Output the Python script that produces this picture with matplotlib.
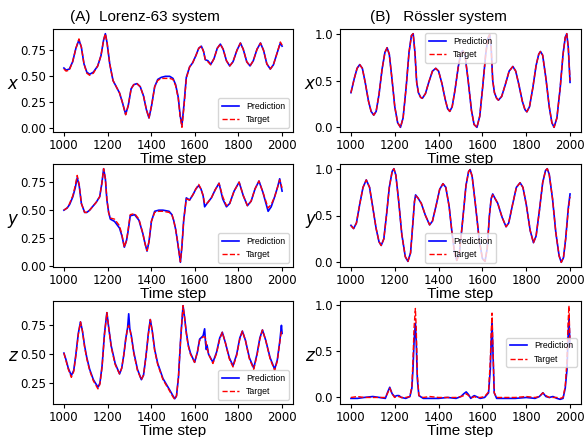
"""Reservoir prediction vs target for Lorenz-63 and Roessler systems (3x2 panels)."""
import matplotlib

matplotlib.use("Agg")
import matplotlib.pyplot as plt

LABEL_FONT = ["Liberation Sans", "DejaVu Sans"]

# ---- Lorenz-63, x component ----
t_lx = [1000, 1010, 1025, 1040, 1055, 1069, 1080, 1092, 1105, 1118, 1135, 1155,
        1170, 1182, 1190, 1198, 1210, 1225, 1240, 1255, 1268, 1283, 1295, 1308,
        1320, 1335, 1350, 1365, 1378, 1390, 1402, 1416, 1430, 1446, 1465, 1485,
        1500, 1512, 1524, 1533, 1541, 1550, 1561, 1576, 1590, 1605, 1618, 1630,
        1640, 1648, 1660, 1673, 1688, 1703, 1717, 1730, 1745, 1760, 1775, 1793,
        1809, 1822, 1838, 1853, 1868, 1885, 1901, 1915, 1930, 1946, 1960, 1975,
        1992, 2000]
lx_pred = [0.58, 0.56, 0.57, 0.64, 0.77, 0.85, 0.78, 0.62, 0.54, 0.52, 0.54, 0.60,
           0.70, 0.85, 0.91, 0.82, 0.62, 0.46, 0.40, 0.34, 0.25, 0.135, 0.22, 0.38,
           0.42, 0.43, 0.40, 0.31, 0.18, 0.10, 0.22, 0.40, 0.47, 0.49, 0.50, 0.50,
           0.48, 0.42, 0.30, 0.12, 0.03, 0.22, 0.49, 0.59, 0.63, 0.70, 0.77, 0.79,
           0.74, 0.66, 0.65, 0.615, 0.67, 0.77, 0.81, 0.76, 0.65, 0.60, 0.64, 0.75,
           0.82, 0.76, 0.64, 0.60, 0.65, 0.76, 0.82, 0.75, 0.62, 0.57, 0.61, 0.71,
           0.82, 0.79]
lx_target = [0.57, 0.55, 0.56, 0.64, 0.77, 0.86, 0.78, 0.62, 0.53, 0.51, 0.53, 0.60,
             0.70, 0.85, 0.91, 0.82, 0.62, 0.46, 0.40, 0.34, 0.25, 0.13, 0.22, 0.38,
             0.42, 0.43, 0.40, 0.31, 0.18, 0.10, 0.22, 0.40, 0.46, 0.48, 0.48, 0.48,
             0.47, 0.41, 0.29, 0.11, 0.01, 0.20, 0.48, 0.59, 0.63, 0.70, 0.77, 0.79,
             0.74, 0.66, 0.64, 0.61, 0.67, 0.77, 0.81, 0.76, 0.65, 0.60, 0.64, 0.75,
             0.82, 0.76, 0.64, 0.60, 0.65, 0.76, 0.82, 0.75, 0.62, 0.57, 0.61, 0.71,
             0.83, 0.80]

# ---- Lorenz-63, y component ----
t_ly = [1000, 1015, 1026, 1041, 1052, 1061, 1070, 1080, 1095, 1105, 1118, 1135,
        1148, 1164, 1174, 1182, 1190, 1197, 1205, 1213, 1232, 1255, 1266, 1277,
        1287, 1294, 1304, 1324, 1344, 1362, 1372, 1381, 1390, 1401, 1416, 1435,
        1454, 1482, 1495, 1503, 1512, 1520, 1528, 1534, 1541, 1549, 1561, 1576,
        1592, 1605, 1618, 1628, 1638, 1645, 1656, 1676, 1693, 1711, 1728, 1745,
        1760, 1780, 1803, 1822, 1841, 1858, 1876, 1894, 1912, 1936, 1950, 1966,
        1980, 1989, 2000]
ly_pred = [0.50, 0.52, 0.55, 0.62, 0.70, 0.79, 0.72, 0.56, 0.48, 0.48, 0.50, 0.54,
           0.57, 0.62, 0.74, 0.87, 0.78, 0.59, 0.48, 0.42, 0.40, 0.34, 0.27, 0.17,
           0.23, 0.31, 0.45, 0.46, 0.41, 0.29, 0.20, 0.135, 0.22, 0.40, 0.49, 0.50,
           0.50, 0.49, 0.46, 0.41, 0.33, 0.23, 0.12, 0.035, 0.18, 0.41, 0.61, 0.59,
           0.64, 0.69, 0.72, 0.69, 0.63, 0.53, 0.56, 0.61, 0.68, 0.74, 0.60, 0.53,
           0.56, 0.67, 0.75, 0.63, 0.54, 0.58, 0.69, 0.76, 0.66, 0.49, 0.53, 0.62,
           0.71, 0.78, 0.67]
ly_target = [0.50, 0.52, 0.56, 0.63, 0.72, 0.81, 0.73, 0.56, 0.48, 0.48, 0.50, 0.54,
             0.57, 0.62, 0.74, 0.87, 0.78, 0.60, 0.48, 0.43, 0.42, 0.36, 0.28, 0.17,
             0.23, 0.32, 0.46, 0.47, 0.42, 0.29, 0.20, 0.14, 0.22, 0.40, 0.48, 0.49,
             0.49, 0.48, 0.46, 0.41, 0.33, 0.23, 0.12, 0.04, 0.18, 0.41, 0.60, 0.59,
             0.64, 0.69, 0.73, 0.69, 0.63, 0.56, 0.56, 0.61, 0.68, 0.74, 0.62, 0.54,
             0.56, 0.67, 0.75, 0.63, 0.54, 0.58, 0.69, 0.76, 0.66, 0.52, 0.55, 0.62,
             0.71, 0.77, 0.70]

# ---- Lorenz-63, z component ----
t_lz = [1000, 1010, 1020, 1034, 1045, 1055, 1066, 1076, 1085, 1095, 1105, 1118,
        1135, 1156, 1165, 1175, 1186, 1197, 1206, 1217, 1235, 1255, 1265, 1275,
        1283, 1292, 1297, 1302, 1309, 1320, 1337, 1355, 1365, 1376, 1387, 1396,
        1405, 1416, 1430, 1454, 1485, 1500, 1508, 1516, 1525, 1535, 1546, 1553,
        1561, 1570, 1580, 1599, 1612, 1622, 1638, 1645, 1649, 1653, 1656, 1663,
        1683, 1700, 1714, 1726, 1740, 1758, 1775, 1792, 1806, 1818, 1832, 1850,
        1870, 1885, 1898, 1910, 1925, 1945, 1966, 1978, 1990, 1997, 2000]
lz_pred = [0.51, 0.45, 0.38, 0.315, 0.36, 0.50, 0.68, 0.78, 0.70, 0.57, 0.47, 0.37,
           0.28, 0.215, 0.25, 0.40, 0.68, 0.86, 0.72, 0.57, 0.42, 0.33, 0.38, 0.50,
           0.63, 0.73, 0.85, 0.72, 0.66, 0.52, 0.37, 0.28, 0.32, 0.48, 0.68, 0.80,
           0.70, 0.54, 0.42, 0.29, 0.19, 0.14, 0.115, 0.14, 0.30, 0.63, 0.92, 0.82,
           0.69, 0.58, 0.51, 0.43, 0.52, 0.63, 0.66, 0.72, 0.60, 0.54, 0.58, 0.50,
           0.43, 0.52, 0.64, 0.69, 0.60, 0.47, 0.40, 0.50, 0.64, 0.70, 0.62, 0.47,
           0.38, 0.50, 0.64, 0.71, 0.62, 0.47, 0.37, 0.45, 0.62, 0.75, 0.68]
lz_target = [0.51, 0.44, 0.37, 0.30, 0.35, 0.49, 0.67, 0.78, 0.70, 0.56, 0.46, 0.36,
             0.27, 0.20, 0.24, 0.39, 0.67, 0.86, 0.72, 0.56, 0.41, 0.33, 0.38, 0.50,
             0.62, 0.73, 0.75, 0.72, 0.65, 0.51, 0.36, 0.28, 0.32, 0.48, 0.67, 0.80,
             0.70, 0.53, 0.41, 0.28, 0.18, 0.13, 0.11, 0.14, 0.30, 0.63, 0.92, 0.82,
             0.68, 0.57, 0.50, 0.43, 0.52, 0.62, 0.65, 0.65, 0.64, 0.58, 0.56, 0.50,
             0.42, 0.51, 0.63, 0.69, 0.60, 0.46, 0.39, 0.49, 0.63, 0.70, 0.62, 0.46,
             0.37, 0.49, 0.63, 0.71, 0.62, 0.46, 0.36, 0.44, 0.61, 0.70, 0.70]

# ---- Roessler, x component (prediction overlaps target at this scale) ----
t_rx = [1000, 1015, 1028, 1040, 1052, 1065, 1080, 1092, 1104, 1115, 1128, 1142,
        1155, 1165, 1175, 1188, 1200, 1213, 1226, 1238, 1252, 1265, 1276, 1284,
        1292, 1300, 1308, 1318, 1326, 1340, 1355, 1372, 1387, 1400, 1415, 1430,
        1441, 1451, 1462, 1475, 1490, 1502, 1510, 1520, 1535, 1550, 1562, 1575,
        1588, 1602, 1615, 1625, 1633, 1640, 1647, 1655, 1665, 1673, 1688, 1705,
        1722, 1739, 1752, 1767, 1782, 1794, 1803, 1815, 1830, 1845, 1857, 1865,
        1875, 1890, 1905, 1917, 1927, 1940, 1955, 1968, 1978, 1985, 1992, 2000]
rx_pred = [0.37, 0.52, 0.63, 0.67, 0.63, 0.48, 0.28, 0.17, 0.13, 0.17, 0.35, 0.62,
           0.80, 0.85, 0.78, 0.50, 0.22, 0.05, 0.00, 0.10, 0.43, 0.80, 0.98, 1.00,
           0.80, 0.48, 0.37, 0.32, 0.31, 0.36, 0.48, 0.60, 0.63, 0.60, 0.47, 0.30,
           0.20, 0.17, 0.22, 0.40, 0.65, 0.79, 0.82, 0.78, 0.50, 0.18, 0.03, 0.00,
           0.12, 0.45, 0.78, 0.95, 0.99, 0.85, 0.50, 0.37, 0.31, 0.29, 0.33, 0.46,
           0.60, 0.65, 0.60, 0.45, 0.28, 0.19, 0.165, 0.22, 0.42, 0.66, 0.78, 0.81,
           0.77, 0.52, 0.22, 0.05, 0.00, 0.10, 0.42, 0.78, 0.96, 1.00, 0.85, 0.48]
rx_target = [0.37, 0.52, 0.63, 0.67, 0.63, 0.48, 0.28, 0.17, 0.13, 0.17, 0.35, 0.62,
             0.80, 0.85, 0.78, 0.50, 0.22, 0.05, 0.00, 0.10, 0.43, 0.80, 0.98, 1.00,
             0.80, 0.48, 0.37, 0.32, 0.31, 0.36, 0.48, 0.60, 0.63, 0.60, 0.47, 0.30,
             0.20, 0.17, 0.22, 0.40, 0.65, 0.79, 0.82, 0.78, 0.50, 0.18, 0.03, 0.00,
             0.12, 0.45, 0.78, 0.95, 0.99, 0.85, 0.50, 0.37, 0.31, 0.29, 0.33, 0.46,
             0.60, 0.65, 0.60, 0.45, 0.28, 0.19, 0.165, 0.22, 0.42, 0.66, 0.78, 0.81,
             0.77, 0.52, 0.22, 0.05, 0.00, 0.10, 0.42, 0.78, 0.96, 1.00, 0.85, 0.50]

# ---- Roessler, y component ----
t_ry = [1000, 1012, 1025, 1040, 1055, 1070, 1085, 1100, 1115, 1128, 1138, 1150,
        1162, 1175, 1188, 1196, 1205, 1218, 1232, 1248, 1260, 1272, 1282, 1290,
        1295, 1305, 1321, 1340, 1359, 1372, 1390, 1405, 1420, 1433, 1448, 1462,
        1473, 1483, 1495, 1510, 1525, 1537, 1544, 1553, 1568, 1585, 1600, 1612,
        1622, 1632, 1640, 1647, 1658, 1670, 1690, 1708, 1720, 1738, 1755, 1772,
        1785, 1800, 1818, 1833, 1845, 1860, 1875, 1888, 1896, 1905, 1920, 1935,
        1950, 1960, 1970, 1980, 1992, 2000]
ry_pred = [0.395, 0.36, 0.42, 0.62, 0.80, 0.88, 0.80, 0.58, 0.36, 0.22, 0.18, 0.25,
           0.50, 0.80, 0.97, 1.00, 0.93, 0.65, 0.30, 0.06, 0.01, 0.10, 0.40, 0.65,
           0.72, 0.69, 0.63, 0.50, 0.40, 0.44, 0.62, 0.78, 0.84, 0.80, 0.60, 0.30,
           0.10, 0.02, 0.10, 0.45, 0.82, 0.97, 0.99, 0.92, 0.62, 0.25, 0.04, 0.01,
           0.15, 0.50, 0.68, 0.73, 0.68, 0.63, 0.48, 0.38, 0.42, 0.62, 0.80, 0.85,
           0.80, 0.62, 0.34, 0.21, 0.28, 0.55, 0.85, 0.98, 1.00, 0.94, 0.68, 0.32,
           0.07, 0.00, 0.05, 0.25, 0.58, 0.73]
ry_target = [0.39, 0.36, 0.42, 0.62, 0.80, 0.88, 0.80, 0.58, 0.36, 0.22, 0.18, 0.25,
             0.50, 0.80, 0.97, 1.00, 0.93, 0.65, 0.30, 0.06, 0.01, 0.10, 0.40, 0.65,
             0.71, 0.69, 0.63, 0.50, 0.40, 0.44, 0.62, 0.78, 0.84, 0.80, 0.60, 0.30,
             0.10, 0.02, 0.10, 0.45, 0.82, 0.97, 0.99, 0.92, 0.62, 0.25, 0.04, 0.01,
             0.15, 0.50, 0.68, 0.72, 0.68, 0.63, 0.48, 0.38, 0.42, 0.62, 0.80, 0.85,
             0.80, 0.62, 0.34, 0.21, 0.28, 0.55, 0.85, 0.98, 1.00, 0.94, 0.68, 0.32,
             0.07, 0.00, 0.05, 0.25, 0.56, 0.70]

# ---- Roessler, z component ----
t_rz = [1000, 1030, 1060, 1100, 1130, 1157, 1168, 1177, 1188, 1199, 1210, 1219,
        1230, 1250, 1269, 1278, 1283, 1288, 1294, 1298, 1303, 1310, 1330, 1360,
        1400, 1440, 1480, 1502, 1515, 1526, 1537, 1547, 1556, 1563, 1572, 1590,
        1610, 1628, 1636, 1640, 1644, 1648, 1654, 1665, 1700, 1750, 1800, 1840,
        1860, 1876, 1890, 1905, 1922, 1940, 1955, 1968, 1978, 1986, 1991, 1995,
        2000]
rz_pred = [-0.01, -0.01, 0.00, 0.01, 0.00, -0.01, 0.06, 0.11, 0.04, 0.01, 0.02, 0.02,
           0.00, -0.01, 0.01, 0.10, 0.30, 0.60, 0.80, 0.60, 0.20, 0.02, -0.01, -0.01,
           -0.01, 0.00, -0.01, 0.01, 0.04, 0.06, 0.03, -0.01, 0.01, 0.02, 0.01, -0.01,
           0.00, 0.05, 0.30, 0.60, 0.80, 0.50, 0.05, -0.01, -0.01, -0.01, 0.00, -0.01,
           0.01, 0.05, 0.01, 0.00, 0.01, -0.01, -0.02, -0.01, 0.10, 0.30, 0.65, 0.85,
           0.55]
rz_target = [0.00, 0.01, 0.00, 0.00, 0.00, 0.00, 0.05, 0.10, 0.04, 0.00, 0.01, 0.01,
             0.00, 0.00, 0.01, 0.12, 0.40, 0.75, 0.96, 0.75, 0.25, 0.02, 0.00, 0.01,
             0.00, 0.00, 0.00, 0.01, 0.02, 0.04, 0.02, 0.00, 0.00, 0.01, 0.00, 0.00,
             0.01, 0.06, 0.40, 0.70, 0.91, 0.55, 0.05, 0.00, 0.00, 0.00, 0.01, 0.00,
             0.01, 0.05, 0.02, 0.00, 0.00, 0.00, -0.01, 0.00, 0.12, 0.40, 0.80, 0.99,
             0.55]

x_ticks = [1000, 1200, 1400, 1600, 1800, 2000]

# (column, row) -> data, ylabel, yticks, tick format, legend location
panels = [
    (0, 0, t_lx, lx_pred, lx_target, "x", [0, 0.25, 0.5, 0.75], "%.2f", "lower right"),
    (0, 1, t_ly, ly_pred, ly_target, "y", [0, 0.25, 0.5, 0.75], "%.2f", "lower right"),
    (0, 2, t_lz, lz_pred, lz_target, "z", [0.25, 0.5, 0.75], "%.2f", "lower right"),
    (1, 0, t_rx, rx_pred, rx_target, "x", [0, 0.5, 1.0], "%.1f", "upper center"),
    (1, 1, t_ry, ry_pred, ry_target, "y", [0, 0.5, 1.0], "%.1f", "lower center"),
    (1, 2, t_rz, rz_pred, rz_target, "z", [0, 0.5, 1.0], "%.1f", "center right"),
]

W, H = 586, 437
col_left = [53, 340]
col_width = [240, 241]
row_top = [29, 164, 301]
row_height = 103
label_x = [-0.17, -0.125]


def main() -> None:
    fig = plt.figure(figsize=(W / 100, H / 100), dpi=100)
    for col, row, t, pred, target, ylab, yticks, fmt, loc in panels:
        rect = [col_left[col] / W, 1 - (row_top[row] + row_height) / H,
                col_width[col] / W, row_height / H]
        ax = fig.add_axes(rect)
        ax.plot(t, pred, color="blue", linewidth=1.2, label="Prediction")
        ax.plot(t, target, color="red", linewidth=1.0, linestyle="--", label="Target")
        ax.set_xticks(x_ticks)
        ax.set_yticks(yticks)
        ax.yaxis.set_major_formatter(matplotlib.ticker.FormatStrFormatter(fmt))
        ax.tick_params(labelsize=8.5, length=3, pad=2)
        ax.set_xlabel("Time step", fontsize=11, family=LABEL_FONT, labelpad=0)
        ax.set_ylabel(ylab, fontsize=12, style="italic", rotation=0,
                      ha="center", va="center")
        ax.yaxis.set_label_coords(label_x[col], 0.47)
        ax.legend(loc=loc, prop={"family": LABEL_FONT, "size": 6.3})

    fig.text(145 / W, 1 - 17 / H, "(A)  Lorenz-63 system", ha="center", va="center",
             fontsize=11, family=LABEL_FONT)
    fig.text(438 / W, 1 - 17 / H, "(B)   Rössler system", ha="center", va="center",
             fontsize=11, family=LABEL_FONT)
    fig.savefig("out.png", dpi=100)


if __name__ == "__main__":
    main()
